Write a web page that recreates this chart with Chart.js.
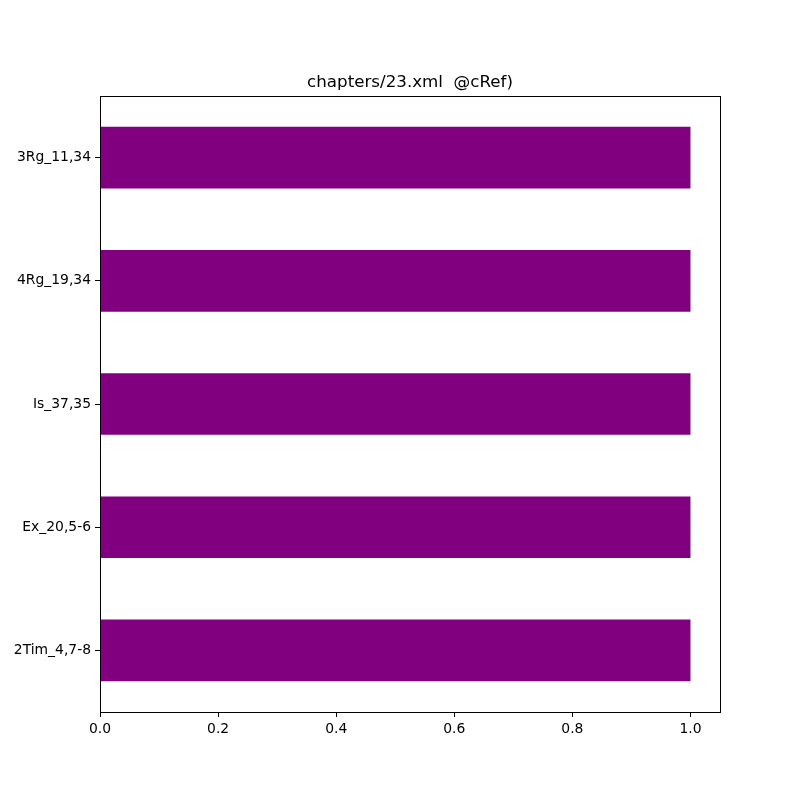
<!DOCTYPE html>
<html>
<head>
<meta charset="utf-8">
<script src="https://cdn.jsdelivr.net/npm/chart.js@4"></script>
<style>
  html, body { margin: 0; padding: 0; background: #fff; }
  #wrap { width: 800px; height: 800px; }
</style>
</head>
<body>
<div id="wrap"><canvas id="myChart" width="800" height="800"></canvas></div>
<script>
  const labels = ['3Rg_11,34', '4Rg_19,34', 'Is_37,35', 'Ex_20,5-6', '2Tim_4,7-8'];
  const values = [1, 1, 1, 1, 1];
  const xTicks = [0, 0.2, 0.4, 0.6, 0.8, 1.0];

  // frame around the plot area, like matplotlib axes
  // and centre the title over the plot area instead of the canvas
  const frame = {
    id: 'frame',
    afterLayout(chart) {
      const a = chart.chartArea;
      const t = chart.titleBlock;
      if (t) {
        t.left = a.left;
        t.right = a.right;
        t.width = a.right - a.left;
      }
    },
    afterDraw(chart) {
      const a = chart.chartArea;
      const c = chart.ctx;
      c.save();
      c.strokeStyle = '#000';
      c.lineWidth = 1;
      c.strokeRect(Math.round(a.left) + 0.5, Math.round(a.top) + 0.5,
        Math.round(a.right - a.left), Math.round(a.bottom - a.top));
      c.restore();
    }
  };

  new Chart(document.getElementById('myChart'), {
    type: 'bar',
    data: {
      labels: labels,
      datasets: [{
        data: values,
        backgroundColor: '#800080',
        barPercentage: 0.5,
        categoryPercentage: 1.0
      }]
    },
    options: {
      indexAxis: 'y',
      responsive: false,
      animation: false,
      layout: { padding: { top: 0, right: 80, bottom: 0, left: 0 } },
      plugins: {
        legend: { display: false },
        tooltip: { enabled: false },
        title: {
          display: true,
          text: 'chapters/23.xml  @cRef)',
          color: '#000',
          font: { family: 'DejaVu Sans', size: 16.7, weight: 'normal', lineHeight: 1.2 },
          padding: { top: 73, bottom: 3 }
        }
      },
      scales: {
        x: {
          min: 0,
          max: 1.05,
          afterBuildTicks: s => { s.ticks = xTicks.map(v => ({ value: v })); },
          afterFit: s => { s.height = 88; },
          border: { display: false },
          grid: { drawOnChartArea: false, tickLength: 5, color: '#000' },
          ticks: {
            color: '#000',
            padding: 4,
            font: { family: 'DejaVu Sans', size: 13.9 },
            callback: v => Number(v).toFixed(1)
          }
        },
        y: {
          afterFit: s => { s.width = 100; },
          border: { display: false },
          grid: { drawOnChartArea: false, offset: false, tickLength: 5, color: '#000' },
          ticks: {
            color: '#000',
            padding: 4,
            font: { family: 'DejaVu Sans', size: 13.9 }
          }
        }
      }
    },
    plugins: [frame]
  });
</script>
</body>
</html>
